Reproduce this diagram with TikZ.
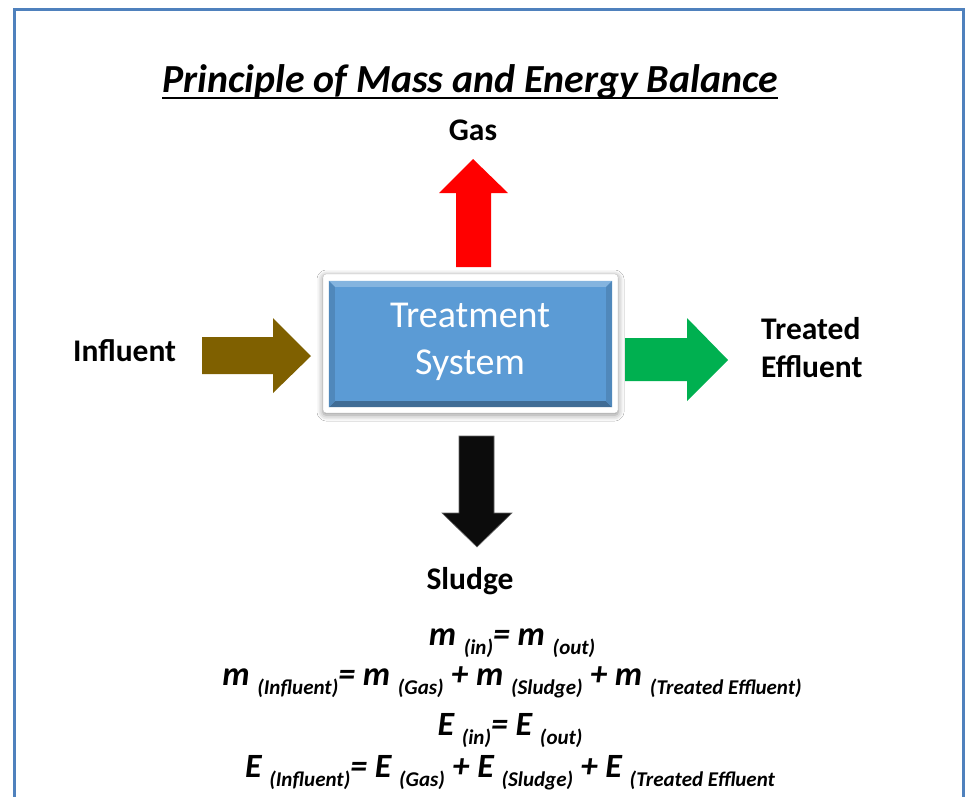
\documentclass[tikz,border=0pt]{standalone}
\usepackage{fontspec}
\setmainfont{Carlito}
\usetikzlibrary{shadows.blur}

\definecolor{frameblue}{RGB}{79,129,189}
\definecolor{boxblue}{RGB}{91,155,213}
\definecolor{gasred}{RGB}{255,0,0}
\definecolor{inbrown}{RGB}{127,96,0}
\definecolor{outgreen}{RGB}{0,176,80}
\definecolor{sludgeblack}{RGB}{12,12,12}

% subscript lowered below the main symbol
\newcommand\flowsubraw[1]{\raisebox{-9pt}{\fontsize{21}{21}\selectfont#1}}
\newcommand\flowsub[1]{\flowsubraw{(#1)}}

\tikzset{
  label text/.style={font=\fontsize{31.5}{38}\selectfont\bfseries, inner sep=0pt},
  eq text/.style={font=\fontsize{34}{34}\selectfont\bfseries\itshape, inner sep=0pt, anchor=base},
  flow arrow/.style={line join=miter},
}

\begin{document}
\begin{tikzpicture}[x=1pt,y=-1pt]
\useasboundingbox (0,0) rectangle (967,796);
\fill[white] (0,0) rectangle (967,796);

% page frame (open at the bottom)
\draw[frameblue, line width=3pt] (14,830) -- (14,9) -- (963,9) -- (963,830);

% title with underline
\node[font=\fontsize{39.8}{40}\selectfont\bfseries\itshape, inner sep=0pt, anchor=base]
  (title) at (470,92) {Principle of Mass and Energy Balance};
\draw[line width=2pt] ([yshift=-5.5pt]title.base west) -- ([yshift=-5.5pt]title.base east);

% treatment system box: white frame, bevelled blue face
\node[draw=black!25, fill=white, rounded corners=3pt, minimum width=295pt, minimum height=139pt,
  blur shadow={shadow xshift=0pt, shadow yshift=-2pt, shadow blur radius=6pt, shadow opacity=45}]
  (frame) at (470.5,343.5) {};
\node[fill=boxblue, minimum width=283pt, minimum height=126pt, inner sep=0pt] (box) at (470.5,344) {};
\fill[boxblue!75!white] (box.north west) -- (box.north east) -- ++(-6,6) -- ([shift={(6pt,-6pt)}]box.north west) -- cycle;
\fill[boxblue!70!black] (box.south west) -- (box.south east) -- ++(-6,-6) -- ([shift={(6pt,6pt)}]box.south west) -- cycle;
\fill[boxblue!88!black] (box.north west) -- ++(6,6) -- ([shift={(6pt,6pt)}]box.south west) -- (box.south west) -- cycle;
\fill[boxblue!88!black] (box.north east) -- ++(-6,6) -- ([shift={(-6pt,6pt)}]box.south east) -- (box.south east) -- cycle;
\node[text=white, font=\fontsize{38}{47}\selectfont, align=center, inner sep=0pt]
  (boxlabel) at (470,341.5) {Treatment\\System};

% block arrows
\fill[gasred, flow arrow] (456,267) -- (456,193) -- (439,193) -- (473,159) -- (508,193) -- (491,193) -- (491,267) -- cycle;
\fill[inbrown, flow arrow] (202,337) -- (273,337) -- (273,318) -- (311,356) -- (273,393) -- (273,374) -- (202,374) -- cycle;
\fill[outgreen, flow arrow] (625,338) -- (687,338) -- (687,318) -- (728,360) -- (687,401) -- (687,381) -- (625,381) -- cycle;
\filldraw[fill=sludgeblack, draw=black!60, line width=0.6pt, flow arrow] (459,436) -- (494,436) -- (494,513) -- (512,513) -- (477,547) -- (442,513) -- (459,513) -- cycle;

% stream labels
\node[label text, anchor=base] (gas) at (473,140) {Gas};
\node[label text, anchor=base west] (influent) at (73,361) {Influent};
\node[label text, anchor=north west, align=left] (effluent) at (761,317) {Treated\\Effluent};
\node[label text, anchor=base] (sludge) at (470,589) {Sludge};

% balance equations
\node[eq text] (massA) at (512,645) {m \flowsub{in}= m \flowsub{out}};
\node[eq text] (massB) at (512,685) {m \flowsub{Influent}= m \flowsub{Gas} + m \flowsub{Sludge} + m \flowsub{Treated Effluent}};
\node[eq text] (energyA) at (510,735) {E \flowsub{in}= E \flowsub{out}};
\node[eq text] (energyB) at (510,777) {E \flowsub{Influent}= E \flowsub{Gas} + E \flowsub{Sludge} + E \flowsubraw{(Treated Effluent}};
\end{tikzpicture}
\end{document}
